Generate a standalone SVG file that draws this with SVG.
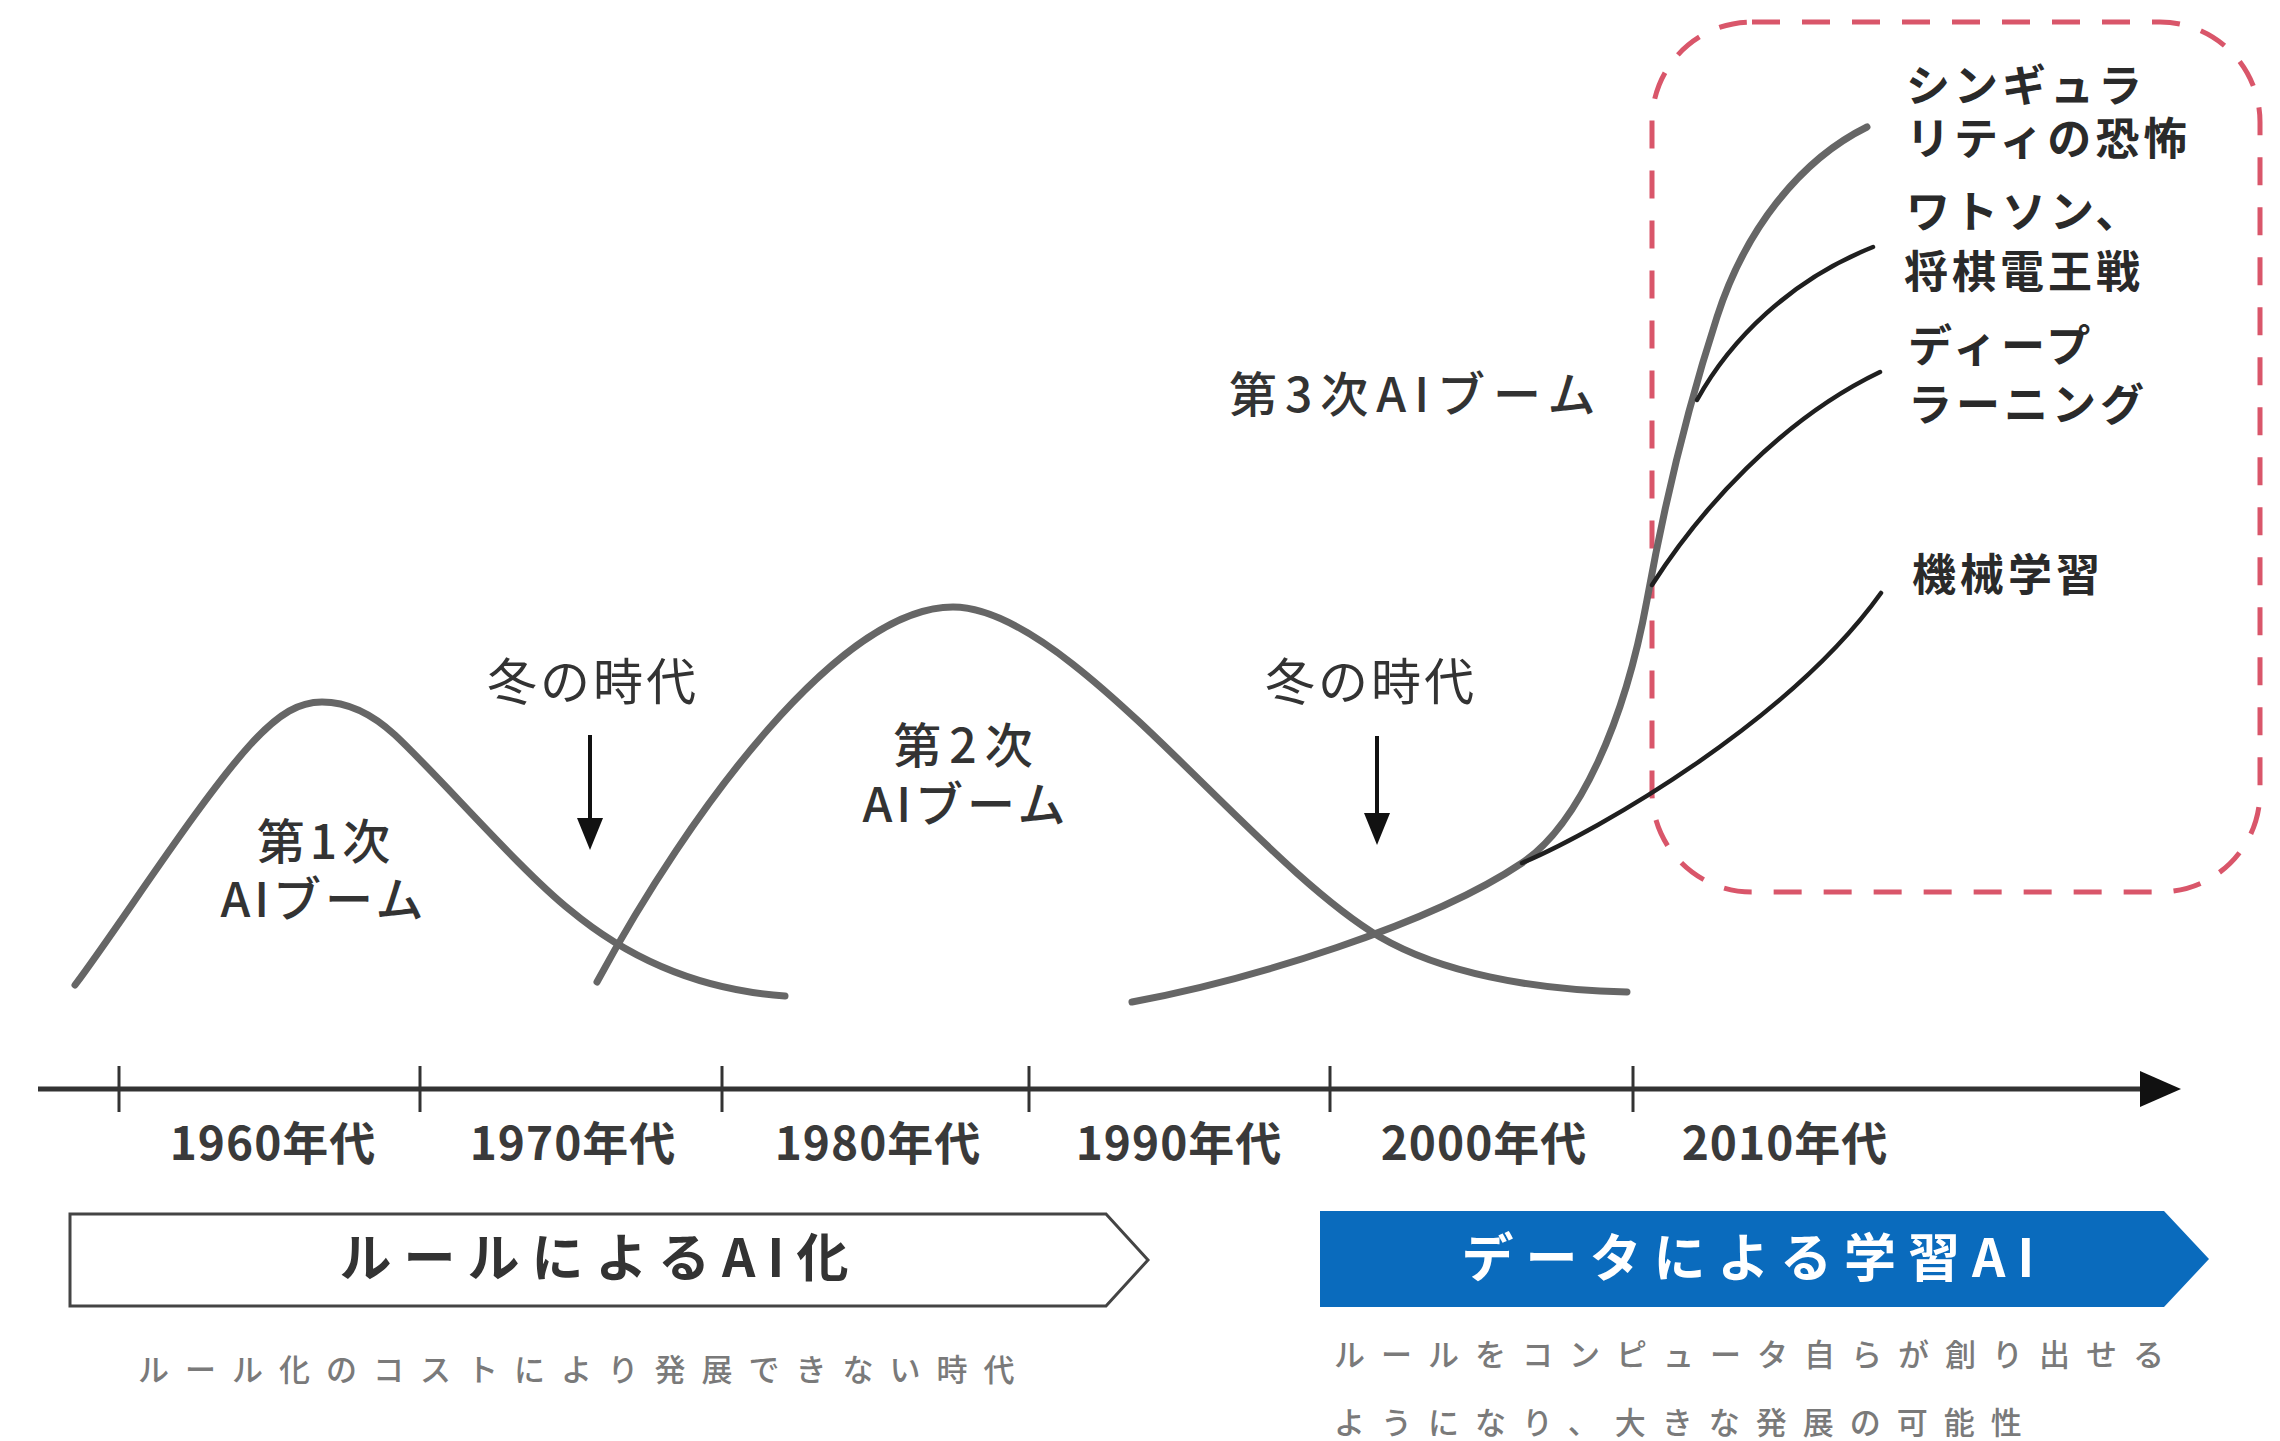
<svg xmlns="http://www.w3.org/2000/svg" width="2280" height="1441" viewBox="0 0 2280 1441">
  <defs>
    <style>
      text { font-family: "Noto Sans CJK JP", "Noto Sans", sans-serif; }
      .lbl { font-size: 48px; font-weight: 500; fill: #333; }
      .winter { font-size: 50px; font-weight: 400; fill: #333; letter-spacing: 3px; }
      .year { font-size: 46px; font-weight: 700; fill: #3a3a3a; text-anchor: middle; letter-spacing: 1px; }
      .tech { font-size: 44px; font-weight: 700; fill: #2a2a2a; letter-spacing: 4px; }
      .band { font-size: 52px; font-weight: 700; letter-spacing: 12px; text-anchor: middle; }
      .sub { font-size: 31px; font-weight: 500; fill: #7a7a7a; letter-spacing: 16px; }
      .boom { fill: none; stroke: #666; stroke-width: 7; stroke-linecap: round; stroke-linejoin: round; }
      .branch { fill: none; stroke: #1f1f1f; stroke-width: 4.5; stroke-linecap: round; }
      .tick { stroke: #333; stroke-width: 3; }
    </style>
  </defs>
  <rect width="2280" height="1441" fill="#fff"/>

  <g id="focus-area">
    <rect x="1652" y="22" width="608" height="870" rx="100" ry="100" fill="none" stroke="#d9566a" stroke-width="5" stroke-dasharray="28 22"/>
  </g>

  <g id="curves">
    <path class="boom" d="M75,985 C120,925 200,800 250,745 C280,712 300,702 322,702 C345,702 370,712 395,735 C440,777 520,870 570,910 C630,960 700,990 785,996"/>
    <path class="boom" d="M597,982 C690,810 840,607 953,607 C1070,607 1250,860 1380,937 C1440,972 1530,990 1627,992"/>
    <path class="boom" d="M1132,1002 C1250,980 1430,925 1522,863 C1580,824 1625,720 1647,600 C1665,500 1690,400 1717,317 C1745,230 1800,160 1867,127"/>
  </g>

  <g id="connectors">
    <path class="branch" d="M1697,400 C1730,340 1790,280 1873,247"/>
    <path class="branch" d="M1652,585 C1700,510 1780,420 1880,372"/>
    <path class="branch" d="M1522,863 C1600,830 1790,720 1881,593"/>
    <line x1="590" y1="735" x2="590" y2="822" stroke="#111" stroke-width="4"/>
    <polygon points="577,818 603,818 590,850" fill="#111"/>
    <line x1="1377" y1="736" x2="1377" y2="817" stroke="#111" stroke-width="4"/>
    <polygon points="1364,813 1390,813 1377,845" fill="#111"/>
  </g>

  <g id="timeline">
    <line x1="38" y1="1089" x2="2145" y2="1089" stroke="#333" stroke-width="5"/>
    <polygon points="2140,1071 2181,1089 2140,1107" fill="#111"/>
    <line class="tick" x1="119" y1="1066" x2="119" y2="1112"/>
    <line class="tick" x1="420" y1="1066" x2="420" y2="1112"/>
    <line class="tick" x1="722" y1="1066" x2="722" y2="1112"/>
    <line class="tick" x1="1029" y1="1066" x2="1029" y2="1112"/>
    <line class="tick" x1="1330" y1="1066" x2="1330" y2="1112"/>
    <line class="tick" x1="1633" y1="1066" x2="1633" y2="1112"/>
    <text class="year" x="273" y="1160">1960年代</text>
    <text class="year" x="573" y="1160">1970年代</text>
    <text class="year" x="878" y="1160">1980年代</text>
    <text class="year" x="1179" y="1160">1990年代</text>
    <text class="year" x="1484" y="1160">2000年代</text>
    <text class="year" x="1785" y="1160">2010年代</text>
  </g>

  <g id="boom1">
    <text class="lbl" text-anchor="middle"><tspan x="326" y="859" letter-spacing="5">第1次</tspan><tspan x="324" y="917" letter-spacing="4">AIブーム</tspan></text>
  </g>
  <g id="boom2">
    <text class="lbl" text-anchor="middle"><tspan x="967" y="763" letter-spacing="8">第2次</tspan><tspan x="966" y="822" letter-spacing="4">AIブーム</tspan></text>
  </g>
  <g id="boom3">
    <text class="lbl" x="1229" y="412" letter-spacing="8">第3次AIブーム</text>
  </g>
  <g id="winter1">
    <text class="winter" x="487" y="700">冬の時代</text>
  </g>
  <g id="winter2">
    <text class="winter" x="1265" y="700">冬の時代</text>
  </g>

  <g id="singularity">
    <text class="tech"><tspan x="1906" y="102">シンギュラ</tspan><tspan x="1906" y="155">リティの恐怖</tspan></text>
  </g>
  <g id="watson">
    <text class="tech"><tspan x="1906" y="228">ワトソン、</tspan><tspan x="1904" y="288">将棋電王戦</tspan></text>
  </g>
  <g id="deep-learning">
    <text class="tech"><tspan x="1908" y="362">ディープ</tspan><tspan x="1908" y="421">ラーニング</tspan></text>
  </g>
  <g id="machine-learning">
    <text class="tech" x="1912" y="591">機械学習</text>
  </g>

  <g id="rule-based">
    <polygon points="70,1214 1106,1214 1148,1260 1106,1306 70,1306" fill="#fff" stroke="#444" stroke-width="3"/>
    <text class="band" x="600" y="1277" fill="#333">ルールによるAI化</text>
    <text class="sub" x="138" y="1381">ルール化のコストにより発展できない時代</text>
  </g>

  <g id="data-learning">
    <polygon points="1320,1211 2164,1211 2209,1259 2164,1307 1320,1307" fill="#0a6bbd"/>
    <text class="band" x="1754" y="1277" fill="#fff">データによる学習AI</text>
    <text class="sub"><tspan x="1334" y="1366">ルールをコンピュータ自らが創り出せる</tspan><tspan x="1334" y="1434">ようになり、大きな発展の可能性</tspan></text>
  </g>
</svg>
